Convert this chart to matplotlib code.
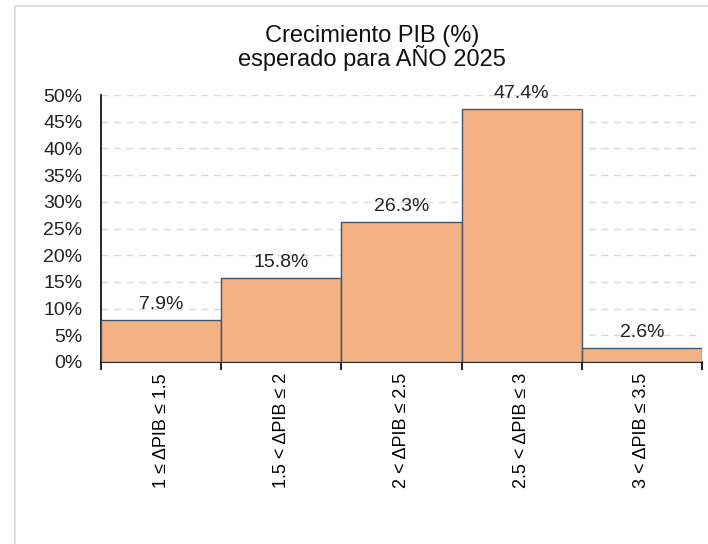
import matplotlib
matplotlib.use("Agg")
import matplotlib.pyplot as plt
from matplotlib.patches import Rectangle
from matplotlib.ticker import FuncFormatter, FixedLocator, NullFormatter

plt.rcParams['font.family'] = ['Liberation Sans', 'DejaVu Sans']

categories = ["1 ≤ ΔPIB ≤ 1.5", "1.5 < ΔPIB ≤ 2", "2 < ΔPIB ≤ 2.5",
              "2.5 < ΔPIB ≤ 3", "3 < ΔPIB ≤ 3.5"]
values = [7.9, 15.8, 26.3, 47.4, 2.6]
title_lines = ["Crecimiento PIB (%)", "esperado para AÑO 2025"]

W, H = 708, 544
fig = plt.figure(figsize=(W / 100, H / 100), dpi=100)

# light frame around chart area
fig.patches.append(Rectangle((15 / W, -0.1), 1.2, 1 - 6 / H + 0.1,
                             transform=fig.transFigure, fill=False,
                             edgecolor="#D9D9D9", linewidth=1.2))

ax = fig.add_axes([101 / W, 1 - 362 / H, (702 - 101) / W, (362 - 95) / H])

x = list(range(len(values)))
ax.bar(x, values, width=1.0, color="#F4B183", edgecolor="#44546A",
       linewidth=1.0, zorder=3)

for xi, v in zip(x, values):
    ax.text(xi, v + 1.25, f"{v:.1f}%", ha="center", va="bottom",
            fontsize=14, color="#222222", zorder=4)

ax.set_xlim(-0.5, len(values) - 0.5)
ax.set_ylim(0, 50)
ax.set_yticks(range(0, 51, 5))
ax.yaxis.set_major_formatter(FuncFormatter(lambda v, p: f"{int(v)}%"))
ax.tick_params(axis="y", length=0, labelsize=14, pad=13.5, labelcolor="#222222")

# ticks at bar edges, labels at bar centers
ax.xaxis.set_major_locator(FixedLocator([i - 0.5 for i in range(len(values) + 1)]))
ax.xaxis.set_major_formatter(NullFormatter())
ax.xaxis.set_minor_locator(FixedLocator(x))
ax.set_xticklabels(categories, minor=True, rotation=90, fontsize=13)
ax.tick_params(axis="x", which="major", length=6, width=1.2, direction="out")
ax.tick_params(axis="x", which="minor", length=0, pad=8)
for lab in ax.get_xticklabels(minor=True):
    lab.set_verticalalignment("top")

ax.grid(axis="y", linestyle=(0, (5, 4)), color="#D9D9D9", linewidth=1.0, zorder=0)
for s in ["top", "right"]:
    ax.spines[s].set_visible(False)
ax.spines["left"].set_linewidth(1.2)
ax.spines["bottom"].set_linewidth(1.2)

for i, line in enumerate(title_lines):
    fig.text(372 / W, 1 - (42 + 24 * i) / H, line, ha="center", va="baseline",
             fontsize=17, color="#111111")

fig.savefig("out.png", dpi=100)
